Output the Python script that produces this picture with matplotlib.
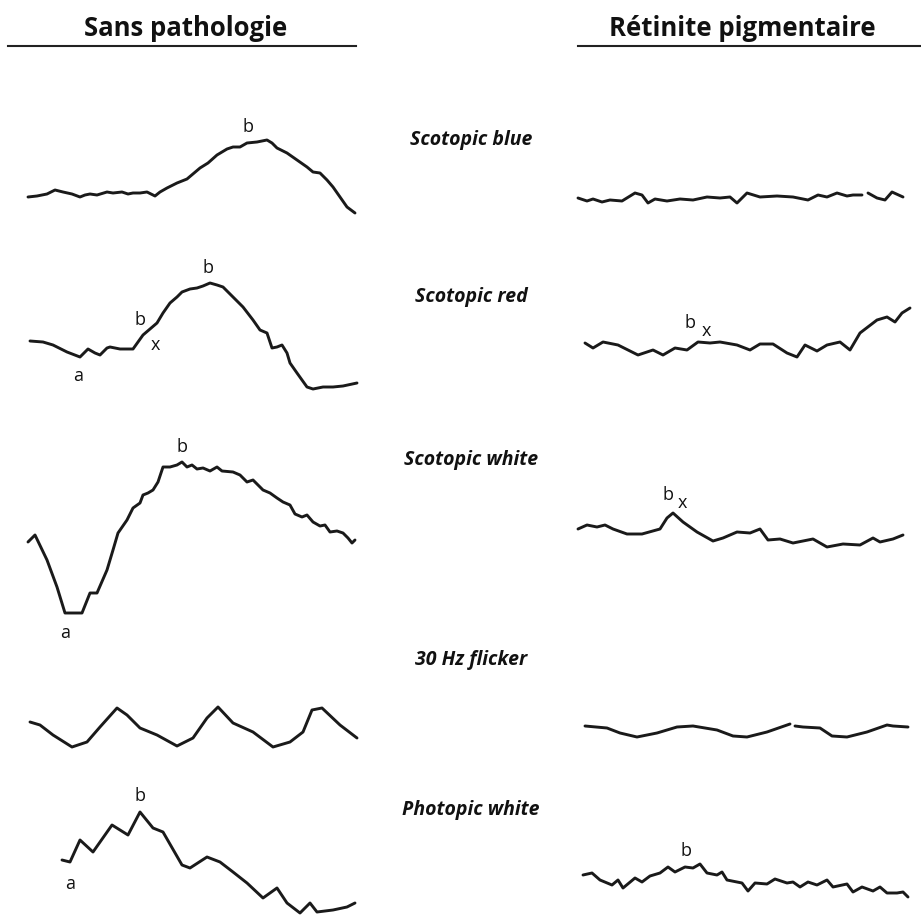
import numpy as np
import matplotlib.pyplot as plt

# traces (x, y in picture units, y grows downward)
norm_blue_x = [28, 37, 47, 55, 63, 72, 80, 85, 90, 97, 107, 113, 122, 128, 133, 140, 147, 155, 160, 167, 177, 187, 200, 208, 217, 227, 233, 240, 247, 257, 267, 272, 277, 287, 297, 307, 313, 320, 327, 333, 340, 347, 355]
norm_blue_y = [197, 196, 194, 190, 192, 194, 197, 195, 194, 195, 192, 193, 192, 194, 193, 193, 192, 196, 192, 188, 183, 179, 168, 163, 155, 149, 147, 147, 143, 142, 140, 143, 148, 153, 160, 167, 172, 173, 180, 187, 197, 207, 213]

norm_red_x = [30, 43, 53, 67, 80, 85, 88, 95, 100, 107, 110, 115, 120, 133, 138, 143, 157, 163, 170, 177, 182, 190, 197, 203, 210, 217, 223, 228, 233, 243, 253, 260, 267, 272, 277, 282, 287, 290, 297, 307, 313, 323, 333, 343, 357]
norm_red_y = [341, 342, 345, 352, 357, 352, 349, 353, 355, 348, 347, 348, 349, 349, 342, 335, 323, 313, 303, 297, 292, 289, 288, 286, 283, 285, 287, 292, 297, 307, 320, 330, 333, 348, 347, 345, 353, 363, 373, 387, 389, 387, 387, 386, 383]

norm_white_x = [28, 35, 47, 57, 65, 72, 82, 90, 97, 107, 113, 118, 127, 133, 140, 143, 148, 153, 158, 163, 170, 177, 182, 187, 192, 197, 203, 210, 217, 222, 233, 240, 247, 253, 263, 270, 277, 283, 290, 295, 302, 307, 313, 320, 325, 330, 337, 343, 348, 352, 355]
norm_white_y = [542, 535, 560, 587, 613, 613, 613, 593, 593, 570, 550, 533, 520, 508, 503, 495, 493, 490, 482, 467, 467, 465, 462, 467, 465, 469, 468, 471, 467, 471, 472, 475, 482, 480, 490, 493, 498, 502, 505, 514, 517, 515, 522, 526, 525, 532, 531, 533, 538, 543, 540]

norm_flick_x = [30, 40, 53, 72, 87, 100, 117, 127, 140, 157, 177, 193, 207, 218, 233, 253, 273, 290, 303, 312, 322, 340, 357]
norm_flick_y = [722, 725, 735, 747, 742, 727, 708, 715, 728, 735, 746, 738, 718, 707, 723, 732, 747, 742, 732, 710, 708, 725, 738]

norm_phot_x = [62, 70, 80, 93, 112, 128, 140, 153, 163, 182, 190, 207, 220, 233, 247, 263, 277, 287, 300, 310, 317, 333, 347, 355]
norm_phot_y = [860, 862, 840, 852, 825, 835, 812, 828, 832, 865, 868, 857, 862, 872, 883, 898, 888, 903, 913, 903, 912, 910, 907, 903]

rp_blue_x = [578, 587, 593, 602, 610, 622, 635, 642, 648, 655, 667, 680, 693, 707, 720, 730, 737, 747, 760, 777, 793, 808, 818, 827, 837, 847, 853, 862, 865, 868, 877, 885, 892, 903]
rp_blue_y = [198, 201, 199, 202, 200, 201, 193, 195, 203, 199, 201, 199, 200, 197, 198, 197, 203, 193, 197, 196, 197, 200, 195, 197, 193, 196, 195, 195, np.nan, 193, 198, 200, 192, 197]

rp_red_x = [585, 593, 603, 618, 638, 653, 663, 675, 687, 698, 710, 720, 737, 750, 760, 773, 787, 797, 805, 817, 827, 840, 850, 860, 877, 887, 895, 902, 910]
rp_red_y = [343, 348, 342, 345, 355, 350, 355, 348, 350, 342, 343, 342, 345, 350, 344, 344, 353, 357, 345, 351, 345, 342, 350, 333, 320, 317, 322, 313, 308]

rp_white_x = [578, 587, 597, 605, 613, 627, 642, 660, 667, 673, 683, 697, 713, 723, 737, 750, 760, 768, 780, 793, 813, 827, 843, 860, 873, 880, 893, 903]
rp_white_y = [529, 525, 527, 525, 529, 534, 534, 529, 518, 513, 522, 532, 541, 538, 532, 533, 529, 540, 539, 543, 539, 547, 544, 545, 538, 542, 539, 535]

rp_flick_x = [585, 607, 620, 637, 657, 677, 693, 717, 733, 747, 767, 790, 793, 795, 803, 820, 832, 847, 867, 887, 893, 908]
rp_flick_y = [726, 728, 733, 737, 733, 727, 726, 730, 736, 737, 732, 724, np.nan, 726, 727, 728, 736, 737, 732, 725, 726, 727]

rp_phot_x = [583, 592, 600, 612, 618, 623, 635, 642, 650, 660, 668, 675, 685, 693, 700, 707, 717, 722, 727, 742, 748, 755, 767, 775, 787, 793, 800, 808, 817, 827, 833, 847, 853, 862, 873, 880, 887, 897, 903, 908]
rp_phot_y = [875, 873, 880, 885, 880, 888, 878, 882, 876, 873, 867, 872, 867, 868, 864, 873, 875, 872, 880, 883, 891, 883, 884, 879, 883, 882, 887, 882, 885, 880, 887, 884, 892, 887, 891, 887, 893, 893, 892, 897]

conditions = ["Scotopic blue", "Scotopic red", "Scotopic white", "30 Hz flicker", "Photopic white"]
cond_y = [140, 297, 460, 660, 810]

headers = ["Sans pathologie", "Rétinite pigmentaire"]
header_x = [186, 742]

# wave labels: text, x, y
wave_labels = [("b", 248, 127), ("b", 208, 268), ("b", 140, 320), ("x", 155, 345), ("a", 78, 376),
               ("b", 182, 447), ("a", 65, 633), ("b", 140, 796), ("a", 70, 884),
               ("b", 690, 323), ("x", 706, 331), ("b", 668, 495), ("x", 682, 503), ("b", 686, 851)]

fig = plt.figure(figsize=(9.21, 9.15), dpi=100)
ax = fig.add_axes([0, 0, 1, 1])
ax.set_xlim(0, 921)
ax.set_ylim(915, 0)
ax.axis("off")

traces = [(norm_blue_x, norm_blue_y), (norm_red_x, norm_red_y), (norm_white_x, norm_white_y),
          (norm_flick_x, norm_flick_y), (norm_phot_x, norm_phot_y),
          (rp_blue_x, rp_blue_y), (rp_red_x, rp_red_y), (rp_white_x, rp_white_y),
          (rp_flick_x, rp_flick_y), (rp_phot_x, rp_phot_y)]
for tx, ty in traces:
    ax.plot(tx, ty, color="#1a1a1a", linewidth=2.1, solid_joinstyle="round", solid_capstyle="round")

for h, hx in zip(headers, header_x):
    ax.text(hx, 29, h, ha="center", va="center", fontsize=18.5, fontweight="bold",
            family=["Open Sans", "DejaVu Sans"], color="#111111")
ax.plot([8, 356], [46, 46], color="#222222", linewidth=1.5)
ax.plot([578, 921], [46, 46], color="#222222", linewidth=1.5)

for c, cy in zip(conditions, cond_y):
    ax.text(471, cy, c, ha="center", va="center", fontsize=14, fontweight="bold", style="italic",
            family=["Open Sans", "DejaVu Sans"], color="#111111")

for t, lx, ly in wave_labels:
    ax.text(lx, ly, t, ha="center", va="center", fontsize=13,
            family=["Open Sans", "DejaVu Sans"], color="#111111")

fig.savefig("out.png", dpi=100)
